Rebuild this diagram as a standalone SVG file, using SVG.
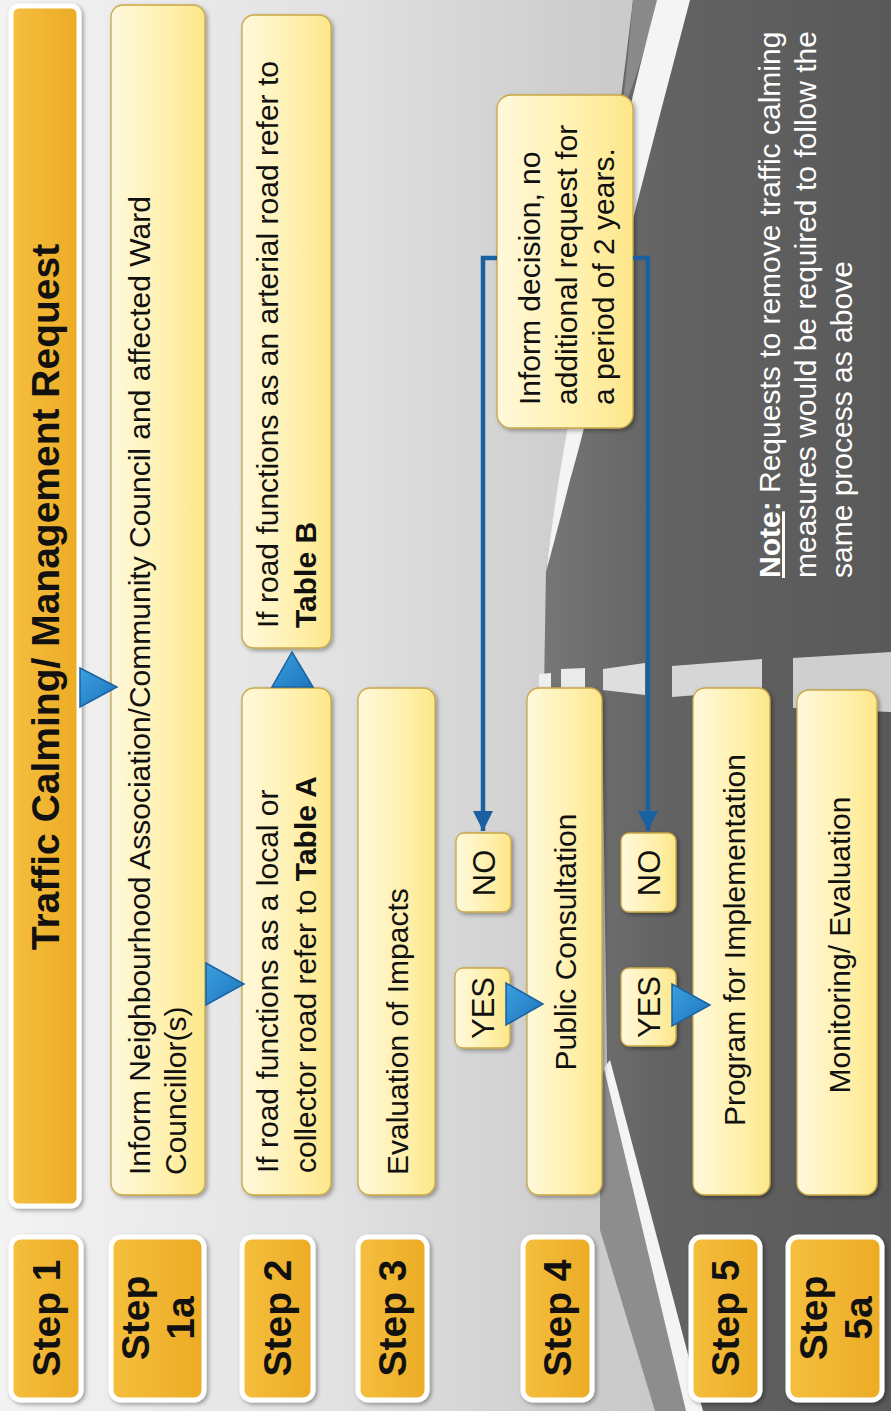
<svg xmlns="http://www.w3.org/2000/svg" width="891" height="1411" viewBox="0 0 891 1411">
<defs>
<linearGradient id="bg" x1="0" y1="0" x2="891" y2="0" gradientUnits="userSpaceOnUse">
<stop offset="0" stop-color="#f3f3f3"/><stop offset="0.35" stop-color="#e3e3e3"/><stop offset="0.65" stop-color="#cdcdcd"/><stop offset="1" stop-color="#bdbdbd"/>
</linearGradient>
<linearGradient id="road" x1="540" y1="0" x2="891" y2="0" gradientUnits="userSpaceOnUse">
<stop offset="0" stop-color="#777777"/><stop offset="0.35" stop-color="#636363"/><stop offset="1" stop-color="#595959"/>
</linearGradient>
<linearGradient id="yel" x1="0" y1="0" x2="1" y2="0">
<stop offset="0" stop-color="#fff9dc"/><stop offset="0.6" stop-color="#fff0ad"/><stop offset="1" stop-color="#fde78a"/>
</linearGradient>
<linearGradient id="org" x1="0" y1="0" x2="1" y2="0">
<stop offset="0" stop-color="#f5bf3e"/><stop offset="1" stop-color="#ecab25"/>
</linearGradient>
<linearGradient id="tri" x1="0" y1="0" x2="1" y2="1">
<stop offset="0" stop-color="#3aa0e0"/><stop offset="1" stop-color="#1f74bb"/>
</linearGradient>
<filter id="sh" x="-10%" y="-10%" width="130%" height="130%">
<feDropShadow dx="2" dy="2" stdDeviation="2" flood-color="#000" flood-opacity="0.35"/>
</filter>
<marker id="ah" viewBox="0 0 10 10" refX="10" refY="5" markerWidth="20" markerHeight="20" markerUnits="userSpaceOnUse" orient="auto">
<path d="M0,0 L10,5 L0,10 z" fill="#1b60a0"/>
</marker>
<style>
.box{fill:url(#yel);stroke:#c9a845;stroke-width:1.3;filter:url(#sh)}
.step{fill:url(#org);stroke:#ffffff;stroke-width:5;filter:url(#sh)}
.t{font-family:"Liberation Sans",Arial,sans-serif;font-size:30px;fill:#111}
.s{font-family:"Liberation Sans",Arial,sans-serif;font-size:39px;font-weight:bold;fill:#111}
.yn{font-family:"Liberation Sans",Arial,sans-serif;font-size:31px;fill:#111}
.n{font-family:"Liberation Sans",Arial,sans-serif;font-size:30px;fill:#ffffff}
.b{font-weight:bold}
.tri{fill:url(#tri);stroke:#1a62a0;stroke-width:1.5}
.ln{fill:none;stroke:#1b60a0;stroke-width:4.5}
</style>
</defs>

<g id="background">
<rect x="0" y="0" width="891" height="1411" fill="url(#bg)"/>
<path d="M633,0 L891,0 L891,1411 L700,1411 L607,1062 L602,700 L544,690 L546,570 C558,480 572,400 588,320 C605,220 620,110 633,0 Z" fill="url(#road)"/>
<path d="M633,0 L657,0 C648,40 636,80 622,112 C626,75 630,38 633,0 Z" fill="#8a8a8a"/>
<path d="M657,0 L690,0 C665,95 640,190 618,280 C600,360 585,430 570,480 C560,520 552,550 546,572 C552,520 560,470 568,425 C585,330 605,230 625,130 C635,85 646,42 657,0 Z" fill="#f4f4f4"/>
<path d="M600,1085 L604,1068 L688,1411 L655,1411 L600,1230 Z" fill="#8d8d8d"/>
<path d="M604,1068 L610,1060 L703,1411 L686,1411 Z" fill="#f4f4f4"/>
<polygon points="539,674 551,673 551,692 539,692" fill="#eeeeee"/>
<polygon points="561,669 585,668 585,692 561,692" fill="#eaeaea"/>
<polygon points="603,669 645,663 645,695 603,690" fill="#dedede"/>
<polygon points="672,666 762,659 762,690 672,697" fill="#d6d6d6"/>
<polygon points="793,658 891,652 891,712 793,708" fill="#cfcfcf"/>
</g>

<g id="title">
<rect class="step" x="11" y="6" width="68" height="1200" rx="8"/>
<text class="s" font-size="38" text-anchor="middle" transform="translate(59,597) rotate(-90)">Traffic Calming/ Management Request</text>
</g>

<g id="step1"><rect class="step" x="11" y="1237" width="70" height="163" rx="10"/>
<text class="s" text-anchor="middle" transform="translate(60,1318) rotate(-90)">Step 1</text></g>
<g id="step1a"><rect class="step" x="111" y="1237" width="93" height="163" rx="10"/>
<text class="s" text-anchor="middle" transform="translate(149,1318) rotate(-90)"><tspan x="0" y="0">Step</tspan><tspan x="0" y="45">1a</tspan></text></g>
<g id="step2"><rect class="step" x="242" y="1237" width="71" height="163" rx="10"/>
<text class="s" text-anchor="middle" transform="translate(291,1318) rotate(-90)">Step 2</text></g>
<g id="step3"><rect class="step" x="358" y="1237" width="69" height="163" rx="10"/>
<text class="s" text-anchor="middle" transform="translate(406,1318) rotate(-90)">Step 3</text></g>
<g id="step4"><rect class="step" x="523" y="1237" width="69" height="163" rx="10"/>
<text class="s" text-anchor="middle" transform="translate(571,1318) rotate(-90)">Step 4</text></g>
<g id="step5"><rect class="step" x="691" y="1237" width="69" height="163" rx="10"/>
<text class="s" text-anchor="middle" transform="translate(739,1318) rotate(-90)">Step 5</text></g>
<g id="step5a"><rect class="step" x="788" y="1237" width="94" height="163" rx="10"/>
<text class="s" text-anchor="middle" transform="translate(827,1318) rotate(-90)"><tspan x="0" y="0">Step</tspan><tspan x="0" y="45">5a</tspan></text></g>

<g id="inform-neighbourhood"><rect class="box" x="111" y="5" width="94" height="1190" rx="12"/>
<text class="t" transform="translate(150,1175) rotate(-90)"><tspan x="0" y="0">Inform Neighbourhood Association/Community Council and affected Ward</tspan><tspan x="0" y="36">Councillor(s)</tspan></text></g>

<g id="table-a"><rect class="box" x="242" y="688" width="89" height="507" rx="12"/>
<text class="t" transform="translate(278,1173) rotate(-90)"><tspan x="0" y="0">If road functions as a local or</tspan><tspan x="0" y="38">collector road refer to </tspan><tspan class="b">Table A</tspan></text></g>

<g id="table-b"><rect class="box" x="242" y="15" width="89" height="633" rx="12"/>
<text class="t" transform="translate(278,628) rotate(-90)"><tspan x="0" y="0">If road functions as an arterial road refer to</tspan><tspan x="0" y="38" class="b">Table B</tspan></text></g>

<g id="evaluation"><rect class="box" x="358" y="688" width="77" height="507" rx="12"/>
<text class="t" transform="translate(408,1175) rotate(-90)">Evaluation of Impacts</text></g>

<g id="public-consultation"><rect class="box" x="527" y="688" width="75" height="507" rx="12"/>
<text class="t" text-anchor="middle" transform="translate(576,942) rotate(-90)">Public Consultation</text></g>

<g id="program"><rect class="box" x="693" y="688" width="77" height="507" rx="12"/>
<text class="t" text-anchor="middle" transform="translate(745,940) rotate(-90)">Program for Implementation</text></g>

<g id="monitoring"><rect class="box" x="797" y="690" width="80" height="505" rx="12"/>
<text class="t" text-anchor="middle" transform="translate(850,945) rotate(-90)">Monitoring/ Evaluation</text></g>

<g id="inform-decision"><rect class="box" x="497" y="95" width="136" height="333" rx="14"/>
<text class="t" transform="translate(540,405) rotate(-90)"><tspan x="0" y="0">Inform decision, no</tspan><tspan x="0" y="37">additional request for</tspan><tspan x="0" y="74">a period of 2 years.</tspan></text></g>

<g id="no1"><rect class="box" x="456" y="833" width="55" height="79" rx="8"/>
<text class="yn" text-anchor="middle" transform="translate(495,873) rotate(-90)">NO</text></g>
<g id="no2"><rect class="box" x="621" y="833" width="55" height="79" rx="8"/>
<text class="yn" text-anchor="middle" transform="translate(660,873) rotate(-90)">NO</text></g>
<g id="yes1"><rect class="box" x="455" y="968" width="55" height="80" rx="8"/>
<text class="yn" text-anchor="middle" transform="translate(494,1008) rotate(-90)">YES</text></g>
<g id="yes2"><rect class="box" x="621" y="968" width="55" height="78" rx="8"/>
<text class="yn" text-anchor="middle" transform="translate(660,1007) rotate(-90)">YES</text></g>

<g id="note">
<text class="n" transform="translate(780,578) rotate(-90)"><tspan x="0" y="0"><tspan class="b" text-decoration="underline">Note</tspan><tspan class="b">:</tspan> Requests to remove traffic calming</tspan><tspan x="0" y="36">measures would be required to follow the</tspan><tspan x="0" y="72">same process as above</tspan></text>
</g>

<g id="connectors">
<polyline class="ln" points="497,258 483,258 483,831" marker-end="url(#ah)"/>
<polyline class="ln" points="633,258 648,258 648,831" marker-end="url(#ah)"/>
<polygon class="tri" points="80,668 80,707 117,687"/>
<polygon class="tri" points="206,963 206,1005 244,984"/>
<polygon class="tri" points="272,687 313,687 292,652"/>
<polygon class="tri" points="506,983 506,1025 543,1004"/>
<polygon class="tri" points="672,984 672,1026 710,1005"/>
</g>
</svg>
